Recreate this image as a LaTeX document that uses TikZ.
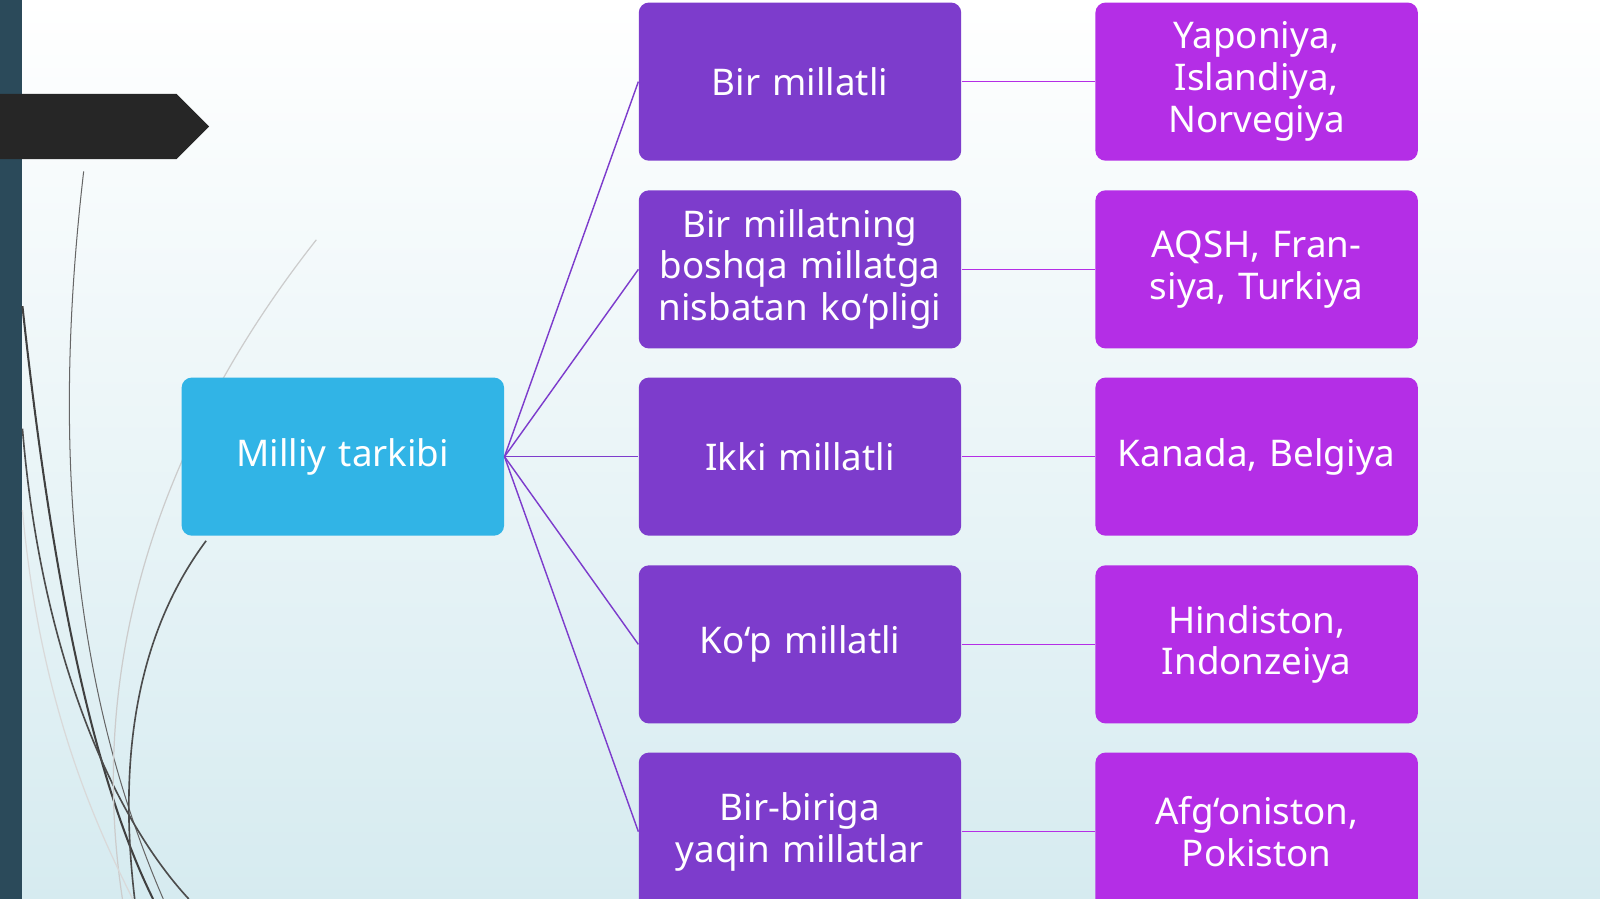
\documentclass[tikz,border=0pt]{standalone}
\usepackage{fontspec}
\setmainfont{Noto Sans}
\begin{document}
\begin{tikzpicture}[x=0.5pt,y=-0.5pt,
  box/.style={rounded corners=5pt,minimum width=158pt,minimum height=77.5pt,inner sep=2pt,text=white,align=center,font=\fontsize{18}{20.5}\selectfont,text width=154pt},
  mid/.style={box,fill=mid},
  right/.style={box,fill=rgt},
  lc/.style={draw=mid,line width=0.7pt},
  rc/.style={draw=rgt,line width=0.7pt}]
\definecolor{mid}{HTML}{7D3CCC}
\definecolor{rgt}{HTML}{B42EE6}
\definecolor{blu}{HTML}{31B4E6}
\definecolor{bgb}{HTML}{D6EBF0}
\definecolor{bar}{HTML}{2B4A5A}
\definecolor{arr}{HTML}{262626}
\useasboundingbox (0,0) rectangle (1568,881);
\shade[top color=white,bottom color=bgb] (0,0) rectangle (1568,881);
\fill[bar] (0,0) rectangle (22,881);
\fill[arr] (0,92) -- (173,92) -- (205,124) -- (173,156) -- (0,156) -- cycle;
% decorative curves
\draw[black!60,line width=0.5pt] (82,168) .. controls (55,400) and (60,650) .. (160,881);
\draw[black!75,line width=1pt] (22,300) .. controls (50,560) and (90,760) .. (150,881);
\draw[black!70,line width=0.8pt] (202,530) .. controls (120,640) and (120,780) .. (132,881);
\draw[black!70,line width=0.8pt] (22,420) .. controls (40,640) and (110,800) .. (185,881);
\draw[black!20,line width=0.6pt] (310,235) .. controls (180,400) and (80,620) .. (120,881);
\draw[black!15,line width=0.6pt] (22,500) .. controls (40,700) and (100,820) .. (130,881);
% nodes
\node[box,fill=blu] (root) at (336,447.5) {Milliy tarkibi};
\node[mid] (m1) at (784,80) {Bir millatli};
\node[mid] (m2) at (784,264) {Bir millatning boshqa millatga nisbatan ko`pligi};
\node[mid] (m3) at (784,447.5) {Ikki millatli};
\node[mid] (m4) at (784,631.5) {Ko`p millatli};
\node[mid] (m5) at (784,815) {Bir-biriga yaqin millatlar};
\node[right] (r1) at (1231.5,80) {Yaponiya, Islandiya, Norvegiya};
\node[right] (r2) at (1231.5,264) {AQSH, Fransiya, Turkiya};
\node[right] (r3) at (1231.5,447.5) {Kanada, Belgiya};
\node[right] (r4) at (1231.5,631.5) {Hindiston, Indonzeiya};
\node[right] (r5) at (1231.5,815) {Afg`oniston, Pokiston};
\foreach \i in {1,...,5}{
  \draw[lc] (root.east) -- (m\i.west);
  \draw[rc] (m\i.east) -- (r\i.west);
}
\end{tikzpicture}
\end{document}
